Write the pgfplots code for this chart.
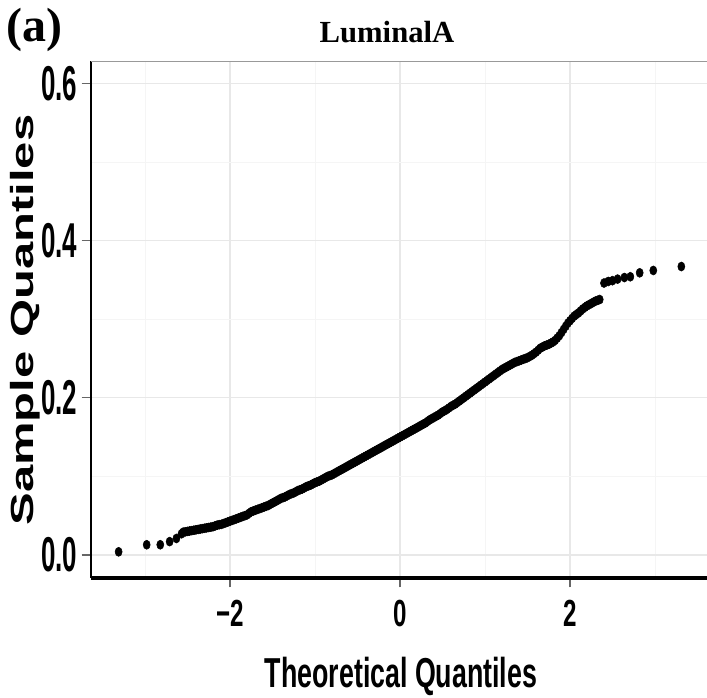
\documentclass[border=0pt]{standalone}
\usepackage{fontspec}
\setmainfont{Liberation Serif}
\newfontfamily\condfont[FakeStretch=0.64]{Liberation Sans}
\newfontfamily\ycondfont[FakeStretch=0.53]{Liberation Sans}
\newfontfamily\widefont[FakeStretch=1.53]{Liberation Sans}
\usepackage{pgfplots}
\pgfplotsset{compat=1.18}
\usepackage{pgfplotstable}

\pgfplotstableread{
x y
-3.31 0.004
-2.98 0.013
-2.82 0.013
-2.71 0.017
-2.63 0.021
-2.57 0.027
-2.550 0.029
-2.525 0.0295
-2.500 0.030
-2.475 0.0305
-2.450 0.031
-2.425 0.0315
-2.400 0.032
-2.375 0.0325
-2.350 0.033
-2.325 0.0335
-2.300 0.034
-2.275 0.0345
-2.250 0.035
-2.225 0.0355
-2.200 0.036
-2.175 0.037
-2.150 0.038
-2.125 0.0385
-2.100 0.039
-2.075 0.040
-2.050 0.041
-2.025 0.042
-2.000 0.043
-1.975 0.044
-1.950 0.045
-1.925 0.046
-1.900 0.047
-1.875 0.048
-1.850 0.049
-1.825 0.050
-1.800 0.051
-1.775 0.053
-1.750 0.055
-1.725 0.056
-1.700 0.057
-1.675 0.058
-1.650 0.059
-1.625 0.060
-1.600 0.061
-1.575 0.062
-1.550 0.063
-1.525 0.0645
-1.500 0.066
-1.475 0.0675
-1.450 0.069
-1.425 0.0705
-1.400 0.072
-1.375 0.073
-1.350 0.074
-1.325 0.0755
-1.300 0.077
-1.275 0.078
-1.250 0.079
-1.225 0.0805
-1.200 0.082
-1.175 0.083
-1.150 0.084
-1.125 0.0855
-1.100 0.087
-1.075 0.088
-1.050 0.089
-1.025 0.0905
-1.000 0.092
-0.975 0.093
-0.950 0.094
-0.925 0.0955
-0.900 0.097
-0.875 0.0985
-0.850 0.100
-0.825 0.101
-0.800 0.102
-0.775 0.1035
-0.750 0.105
-0.725 0.1065
-0.700 0.108
-0.675 0.1095
-0.650 0.111
-0.625 0.1125
-0.600 0.114
-0.575 0.1155
-0.550 0.117
-0.525 0.1185
-0.500 0.120
-0.475 0.1215
-0.450 0.123
-0.425 0.1245
-0.400 0.126
-0.375 0.1275
-0.350 0.129
-0.325 0.1305
-0.300 0.132
-0.275 0.1335
-0.250 0.135
-0.225 0.1365
-0.200 0.138
-0.175 0.1395
-0.150 0.141
-0.125 0.1425
-0.100 0.144
-0.075 0.1455
-0.050 0.147
-0.025 0.1485
0.000 0.150
0.025 0.1515
0.050 0.153
0.075 0.1545
0.100 0.156
0.125 0.1575
0.150 0.159
0.175 0.1605
0.200 0.162
0.225 0.1635
0.250 0.165
0.275 0.1665
0.300 0.168
0.325 0.170
0.350 0.172
0.375 0.1735
0.400 0.175
0.425 0.1765
0.450 0.178
0.475 0.180
0.500 0.182
0.525 0.1835
0.550 0.185
0.575 0.187
0.600 0.189
0.625 0.1905
0.650 0.192
0.675 0.194
0.700 0.196
0.725 0.198
0.750 0.200
0.775 0.202
0.800 0.204
0.825 0.206
0.850 0.208
0.875 0.210
0.900 0.212
0.925 0.214
0.950 0.216
0.975 0.218
1.000 0.220
1.025 0.222
1.050 0.224
1.075 0.226
1.100 0.228
1.125 0.230
1.150 0.232
1.175 0.234
1.200 0.236
1.225 0.2375
1.250 0.239
1.275 0.2405
1.300 0.242
1.325 0.2435
1.350 0.245
1.375 0.246
1.400 0.247
1.425 0.248
1.450 0.249
1.475 0.250
1.500 0.251
1.525 0.2525
1.550 0.254
1.575 0.256
1.600 0.258
1.625 0.2605
1.650 0.263
1.675 0.2645
1.700 0.266
1.725 0.267
1.750 0.268
1.775 0.2695
1.800 0.271
1.825 0.273
1.850 0.276
1.875 0.279
1.900 0.283
1.925 0.287
1.950 0.291
1.975 0.295
2.000 0.298
2.025 0.301
2.050 0.304
2.075 0.306
2.100 0.308
2.125 0.3105
2.150 0.313
2.175 0.315
2.200 0.317
2.225 0.3185
2.250 0.320
2.275 0.3215
2.300 0.323
2.325 0.324
2.350 0.325
2.40 0.346
2.45 0.348
2.50 0.349
2.56 0.351
2.64 0.353
2.71 0.354
2.82 0.359
2.98 0.362
3.31 0.367
}\qqdata

\begin{document}
\begin{tikzpicture}
\useasboundingbox (-68.25pt,-89.25pt) rectangle (462pt,433.5pt);
\begin{axis}[
  at={(0pt,0pt)}, anchor=south west,
  scale only axis, width=462pt, height=387.75pt,
  xmin=-3.635, xmax=3.612, ymin=-0.0293, ymax=0.6285,
  axis x line*=bottom, axis y line*=left,
  x axis line style={line width=3.5pt, -},
  y axis line style={line width=1.5pt, -},
  xtick={-2,0,2}, xticklabels={−2,0,2},
  ytick={0,0.2,0.4,0.6}, yticklabels={0.0,0.2,0.4,0.6},
  minor xtick={-3,-1,1,3}, minor ytick={0.1,0.3,0.5},
  grid=both,
  major grid style={draw=black!9, line width=0.9pt},
  minor grid style={draw=black!4, line width=0.7pt},
  tick align=outside, major tick length=7pt, minor tick length=0pt,
  tick style={draw=black!60, line width=0.8pt},
  xticklabel style={font=\condfont\bfseries\fontsize{28.3}{28.3}\selectfont, inner sep=0pt, anchor=north, yshift=-9.5pt},
  yticklabel style={font=\ycondfont\bfseries\fontsize{36.7}{36.7}\selectfont, inner sep=0pt, anchor=east, xshift=-3pt},
]
\addplot[only marks, mark=*, mark size=3.4pt, mark options={xscale=0.78, fill=black, draw=black}] table {\qqdata};
\draw[black!40, line width=1.2pt] (rel axis cs:0,1) -- (rel axis cs:1,1);
\end{axis}
\node[anchor=base, inner sep=0pt, font=\bfseries\fontsize{23}{23}\selectfont] at (222pt,401.25pt) {LuminalA};
\node[anchor=base west, inner sep=0pt, font=\bfseries\fontsize{36}{36}\selectfont] at (-63.5pt,402pt) {(a)};
\node[anchor=base, inner sep=0pt, font=\condfont\bfseries\fontsize{31.4}{31.4}\selectfont] at (232.5pt,-81.75pt) {Theoretical Quantiles};
\node[rotate=90, inner sep=0pt, font=\widefont\bfseries\fontsize{24}{24}\selectfont] at (-49.5pt,193.5pt) {Sample Quantiles};
\end{tikzpicture}
\end{document}
